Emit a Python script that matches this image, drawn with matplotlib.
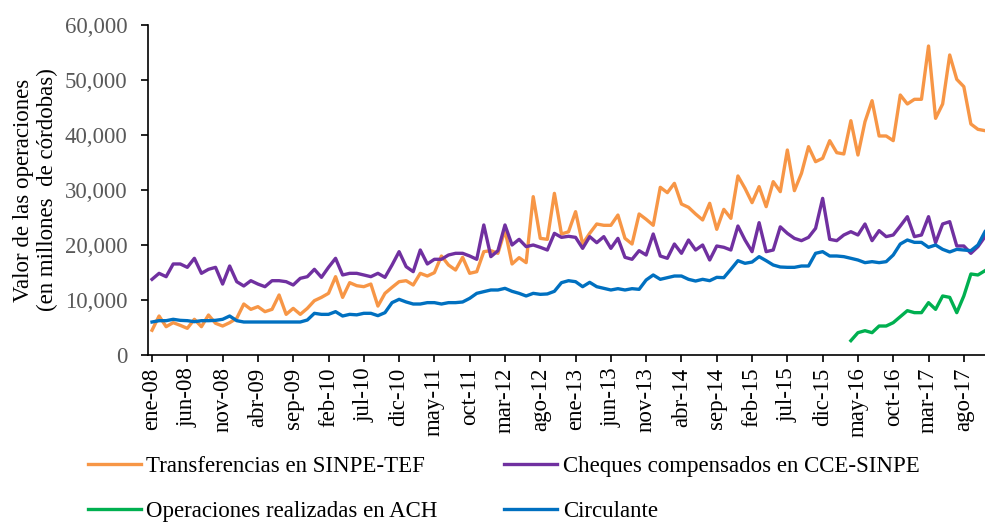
import matplotlib
matplotlib.use('Agg')
import matplotlib.pyplot as plt
import numpy as np
from matplotlib.ticker import FuncFormatter

plt.rcParams['font.family'] = ['Liberation Serif', 'DejaVu Serif']

meses = ['ene', 'feb', 'mar', 'abr', 'may', 'jun', 'jul', 'ago', 'sep', 'oct', 'nov', 'dic']
fechas = ['%s-%02d' % (meses[k % 12], 8 + k // 12) for k in range(119)]

# millones de cordobas
tef = [4500, 7090, 5150, 5880, 5390, 4850, 6490, 5150, 7270, 5760,
       5270, 5880, 6670, 9270, 8300, 8790, 7880, 8300, 10910, 7390,
       8480, 7390, 8480, 9880, 10480, 11210, 14240, 10480, 13150, 12600,
       12420, 12900, 8900, 11210, 12300, 13330, 13510, 12730, 14850, 14360,
       14970, 18000, 16360, 15450, 17760, 14850, 15150, 18790, 18970, 18490,
       22730, 16550, 17700, 16790, 28790, 21210, 21030, 29390, 22000, 22400,
       26060, 20180, 22120, 23820, 23580, 23580, 25450, 21210, 20180, 25640,
       24670, 23580, 30490, 29520, 31210, 27450, 26850, 25640, 24550, 27580,
       22850, 26480, 24850, 32550, 30300, 27700, 30610, 26970, 31520, 29700,
       37270, 29880, 33030, 37880, 35150, 35760, 38970, 36790, 36550, 42600,
       36360, 42420, 46240, 39820, 39820, 38970, 47270, 45640, 46490, 46490,
       56180, 43030, 45640, 54550, 50120, 48790, 42000, 41030, 40790]

cheques = [13760, 14850, 14240, 16550, 16550, 15940, 17580, 14850, 15580, 15940,
           12900, 16180, 13330, 12550, 13510, 12900, 12420, 13510, 13510, 13330,
           12730, 13940, 14240, 15580, 14120, 15940, 17580, 14550, 14850, 14850,
           14550, 14240, 14850, 14120, 16360, 18790, 16060, 15150, 19090, 16550,
           17400, 17400, 18180, 18490, 18490, 18000, 17400, 23640, 17880, 18970,
           23640, 20000, 21030, 19700, 20000, 19580, 19090, 22120, 21390, 21580,
           21390, 19390, 21520, 20420, 21520, 19390, 21210, 17760, 17400, 18970,
           18180, 22000, 18000, 17580, 20180, 18490, 20910, 19090, 20000, 17270,
           19820, 19580, 19090, 23450, 20910, 18790, 24060, 18790, 19090, 23300,
           22120, 21210, 20790, 21390, 23030, 28480, 21030, 20790, 21820, 22420,
           21820, 23820, 20790, 22610, 21520, 21820, 23450, 25150, 21520, 21820,
           25150, 20420, 23820, 24240, 19820, 19820, 18490, 19700, 21520]

circulante = [6000, 6240, 6240, 6490, 6300, 6240, 6060, 6240, 6240, 6300,
              6490, 7090, 6240, 6000, 6000, 6000, 6000, 6000, 6000, 6000,
              6000, 6000, 6360, 7580, 7390, 7390, 7880, 7090, 7390, 7300,
              7580, 7580, 7150, 7700, 9520, 10120, 9640, 9270, 9270, 9520,
              9520, 9270, 9520, 9520, 9640, 10300, 11210, 11520, 11820, 11820,
              12120, 11580, 11210, 10730, 11210, 11030, 11100, 11580, 13150, 13510,
              13330, 12420, 13210, 12420, 12120, 11820, 12060, 11820, 12060, 11940,
              13640, 14550, 13760, 14060, 14360, 14360, 13760, 13450, 13760, 13510,
              14120, 14060, 15580, 17150, 16670, 16900, 17880, 17150, 16360, 16000,
              15940, 15940, 16180, 16180, 18490, 18790, 18000, 18000, 17880, 17580,
              17270, 16790, 16970, 16790, 16970, 18180, 20180, 20910, 20480, 20480,
              19580, 20000, 19210, 18730, 19210, 19090, 18970, 20000, 22420]

# ACH desde abr-16
ach = [np.nan] * 99 + [2610, 4060, 4420, 4060, 5270, 5270, 5880, 6970, 8060, 7700,
                       7700, 9520, 8300, 10730, 10480, 7700, 10730, 14730, 14550, 15330]

x = np.arange(len(fechas))

fig = plt.figure(figsize=(9.85, 5.25), dpi=100)
ax = fig.add_axes([148 / 985, 170 / 525, 837 / 985, 330 / 525])

l1, = ax.plot(x, tef, color='#F79646', lw=2.4, label='Transferencias en SINPE-TEF')
l2, = ax.plot(x, cheques, color='#7030A0', lw=2.4, label='Cheques compensados en CCE-SINPE')
l3, = ax.plot(x, ach, color='#00B050', lw=2.4, label='Operaciones realizadas en ACH')
l4, = ax.plot(x, circulante, color='#0070C0', lw=2.4, label='Circulante')

ax.set_xlim(-0.57, 118)
ax.set_ylim(0, 60000)
ax.set_yticks(np.arange(0, 60001, 10000))
ax.yaxis.set_major_formatter(FuncFormatter(lambda v, p: '{:,.0f}'.format(v)))
ax.set_xticks(x[::5])
ax.set_xticklabels(fechas[::5], rotation=90)

for s in ['top', 'right']:
    ax.spines[s].set_visible(False)
ax.spines['left'].set_linewidth(1.2)
ax.spines['bottom'].set_linewidth(1.2)
ax.tick_params(axis='y', direction='out', length=5, width=1.2, pad=10,
               labelsize=16.5, labelcolor='#595959')
ax.tick_params(axis='x', direction='out', length=5, width=1.2, pad=4,
               labelsize=16.5, labelcolor='black')

ax.set_ylabel('Valor de las operaciones\n(en millones  de córdobas)', fontsize=16.5)
ax.yaxis.set_label_coords(-0.107, 0.5)

fig.legend([l1, l3, l2, l4], [l1.get_label(), l3.get_label(), l2.get_label(), l4.get_label()],
           loc='upper left', bbox_to_anchor=(88 / 985, 1 - 456 / 525), ncol=2,
           frameon=False, fontsize=16.5, borderpad=0, borderaxespad=0,
           handlelength=2.3, handletextpad=0.25, columnspacing=2.9, labelspacing=1.05)

fig.savefig('out.png', dpi=100)
